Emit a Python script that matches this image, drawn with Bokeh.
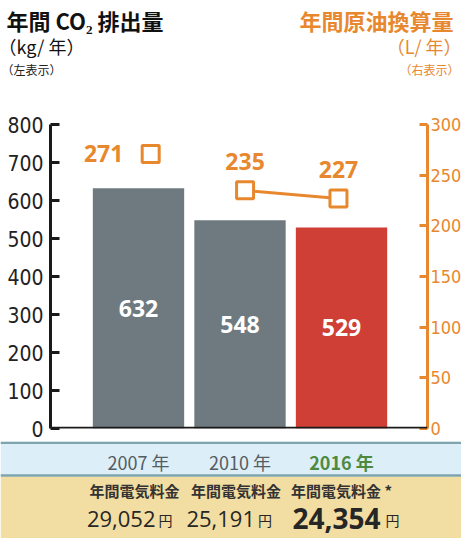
from bokeh.plotting import figure
from bokeh.models import Range1d, LinearAxis, Span, ColumnDataSource, FixedTicker
from bokeh.core.properties import value
from bokeh.embed import file_html
from bokeh.resources import INLINE

# ---- data ----
years = ["2007", "2010", "2016"]
co2 = [632, 548, 529]            # kg / year (left axis)
oil = [271, 235, 227]            # L / year (right axis)
cost = ["29,052", "25,191", "24,354"]
left_ticks = [0, 100, 200, 300, 400, 500, 600, 700, 800]
right_ticks = [0, 50, 100, 150, 200, 250, 300]

idx = list(range(len(years)))

# ---- styles ----
ORANGE = "#E8882E"
GRAY_BAR = "#6F7A80"
RED_BAR = "#CF3F35"
JP = "Noto Sans CJK JP"
NUM = "Open Sans"
NARROW = "Liberation Sans Narrow, DejaVu Sans Condensed, sans-serif"

W = 461
PX = 101.5                 # pixels per category step
FL, FW = 50, 377           # main frame left / width (px)
X0 = -88 / PX
X1 = X0 + FW / PX

# ================= header =================
h = figure(width=W, height=100, x_range=Range1d(0, W), y_range=Range1d(100, 0),
           x_axis_location=None, y_axis_location=None, min_border=0,
           output_backend="svg", toolbar_location=None)
h.outline_line_color = None
h.grid.visible = False
h.text(x=[6], y=[19], text=["年間 CO₂ 排出量"], text_font=value(JP), text_font_style="bold",
       text_font_size="22px", text_color="#111111", text_align="left", text_baseline="middle")
h.text(x=[-2], y=[45], text=["（kg/ 年）"], text_font=value(JP),
       text_font_size="18px", text_color="#111111", text_align="left", text_baseline="middle")
h.text(x=[1], y=[69], text=["（左表示）"], text_font=value(JP),
       text_font_size="12px", text_color="#222222", text_align="left", text_baseline="middle")
h.text(x=[453], y=[19], text=["年間原油換算量"], text_font=value(JP), text_font_style="bold",
       text_font_size="22px", text_color=ORANGE, text_align="right", text_baseline="middle")
h.text(x=[461], y=[45], text=["（L/ 年）"], text_font=value(JP),
       text_font_size="18px", text_color=ORANGE, text_align="right", text_baseline="middle")
h.text(x=[459], y=[69], text=["（右表示）"], text_font=value(JP),
       text_font_size="12px", text_color=ORANGE, text_align="right", text_baseline="middle")

# ================= main chart =================
p = figure(frame_width=FW, frame_height=304, x_range=Range1d(X0, X1), y_range=Range1d(0, 800),
           x_axis_location=None, min_border_left=FL, min_border_right=W - FL - FW,
           min_border_top=24, min_border_bottom=13,
           output_backend="svg", toolbar_location=None)
p.outline_line_color = None
p.grid.visible = False

ya = p.yaxis[0]
ya.ticker = FixedTicker(ticks=left_ticks)
ya.axis_line_width = 3
ya.axis_line_color = "#1a1a1a"
ya.major_tick_line_width = 3
ya.major_tick_line_color = "#1a1a1a"
ya.major_tick_in = 9
ya.major_tick_out = 0
ya.minor_tick_line_color = None
ya.major_label_standoff = 7
ya.major_label_text_font = NARROW
ya.major_label_text_font_size = "21px"
ya.major_label_text_color = "#222222"

p.extra_y_ranges = {"oil": Range1d(0, 300)}
ra = LinearAxis(y_range_name="oil", ticker=FixedTicker(ticks=right_ticks))
ra.axis_line_width = 3
ra.axis_line_color = ORANGE
ra.major_tick_line_width = 3
ra.major_tick_line_color = ORANGE
ra.major_tick_in = 8
ra.major_tick_out = 0
ra.minor_tick_line_color = None
ra.major_label_standoff = 3
ra.major_label_text_font = NARROW
ra.major_label_text_font_size = "18px"
ra.major_label_text_color = ORANGE
p.add_layout(ra, "right")

bar_src = ColumnDataSource(dict(
    x=idx, top=co2, color=[GRAY_BAR, GRAY_BAR, RED_BAR],
    ly=[v / 2 for v in co2], lab=[str(v) for v in co2]))
p.vbar(x="x", top="top", width=0.9, fill_color="color", line_color=None, source=bar_src)
p.text(x="x", y="ly", text="lab", source=bar_src, text_font=value(NUM), text_font_style="bold",
       text_font_size="23px", text_color="white", text_align="center", text_baseline="middle")

p.add_layout(Span(location=0, dimension="width", line_color="#1a1a1a", line_width=3.5))

# oil markers
oil_dx = [0.12, 0.05, -0.03]
oil_x = [i + d for i, d in zip(idx, oil_dx)]
oil_src = ColumnDataSource(dict(
    x=oil_x, y=oil, lab=[str(v) for v in oil],
    dx=[-47, 0, 0], dy=[0, -29, -29]))
p.line(x=oil_x[1:], y=oil[1:], line_color=ORANGE, line_width=3, y_range_name="oil")
p.scatter(x="x", y="y", source=oil_src, marker="square", size=17, fill_color="white",
          line_color=ORANGE, line_width=3, y_range_name="oil")
p.text(x="x", y="y", text="lab", source=oil_src, x_offset="dx", y_offset="dy",
       y_range_name="oil", text_font=value(NUM), text_font_style="bold",
       text_font_size="23px", text_color=ORANGE, text_align="center", text_baseline="middle")

# ================= bottom bands =================
B0 = X0 - FL / PX
B1 = X1 + (W - FL - FW) / PX
b = figure(width=W, height=97, x_range=Range1d(B0, B1), y_range=Range1d(100, 3),
           x_axis_location=None, y_axis_location=None, min_border=0,
           output_backend="svg", toolbar_location=None)
b.outline_line_color = None
b.grid.visible = False
b.quad(left=[B0], right=[B1], top=[3], bottom=[37], fill_color="#DCEEF8", line_color=None)
b.quad(left=[B0], right=[B1], top=[38], bottom=[100], fill_color="#F2DDA2", line_color=None)
b.add_layout(Span(location=4.2, dimension="width", line_color="#7FA4AE", line_width=2.5))
b.add_layout(Span(location=37, dimension="width", line_color="#7FA4AE", line_width=2.5))

yr_src = ColumnDataSource(dict(
    x=idx, t=[y + " 年" for y in years],
    c=["#555C62", "#555C62", "#4E8A3E"], s=["normal", "normal", "bold"]))
b.text(x="x", y=23, text="t", source=yr_src, text_color="c", text_font_style="s",
       text_font=value(JP), text_font_size="18px", text_align="center", text_baseline="middle")

fee_lab = ["年間電気料金", "年間電気料金", "年間電気料金 *"]
b.text(x=idx, y=[52] * 3, text=fee_lab, x_offset=[-4, -4, 0], text_font=value(JP),
       text_font_style="bold", text_font_size="15px", text_color="#333333",
       text_align="center", text_baseline="middle")

cost_src = ColumnDataSource(dict(
    x=idx, t=cost, yen=["円"] * len(cost), dx=[17, 15, 39], ydx=[20, 18, 44],
    fs=["22px", "22px", "28px"], st=["normal", "normal", "bold"]))
b.text(x="x", y=80, text="t", source=cost_src, x_offset="dx", text_font=value(NUM),
       text_font_size="fs", text_font_style="st", text_color="#262626",
       text_align="right", text_baseline="middle")
b.text(x="x", y=81, text="yen", source=cost_src, x_offset="ydx", text_font=value(JP),
       text_font_size="14px", text_color="#262626", text_align="left", text_baseline="middle")

open("out.html", "w").write(file_html([h, p, b], INLINE))
